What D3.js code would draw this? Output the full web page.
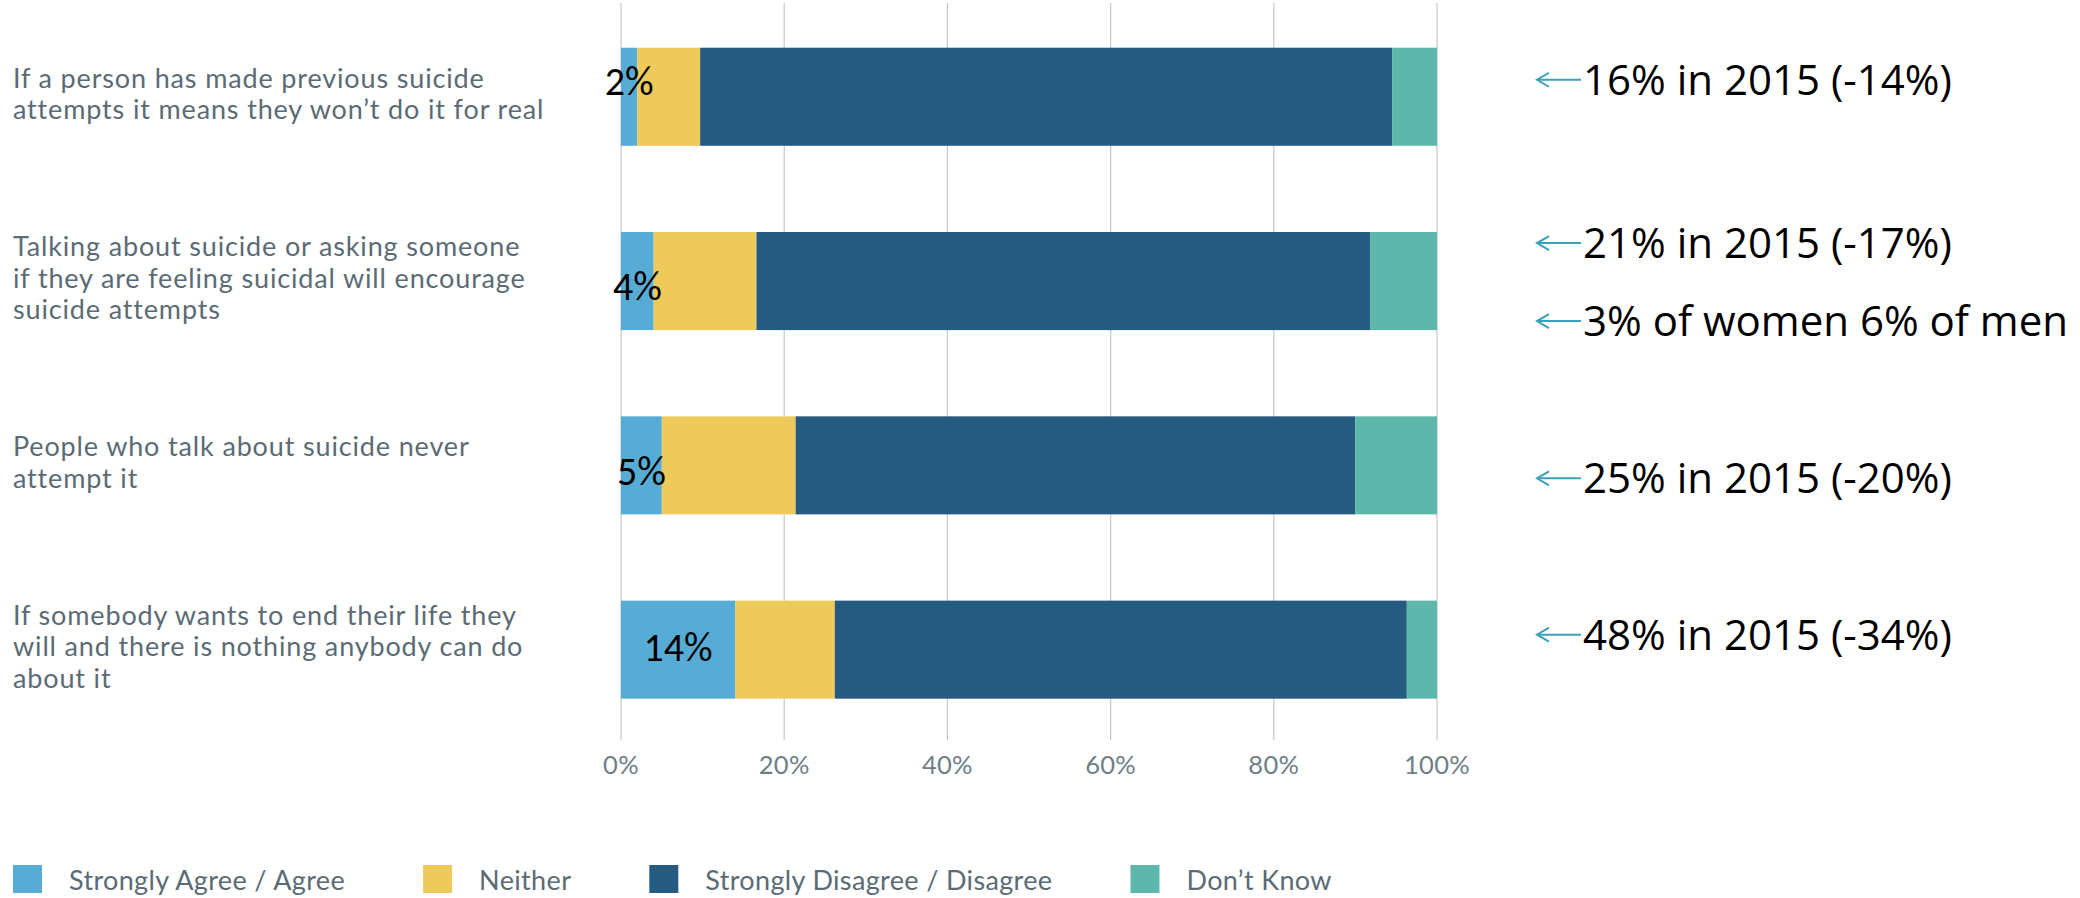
<!DOCTYPE html>
<html>
<head>
<meta charset="utf-8">
<script src="https://cdn.jsdelivr.net/npm/d3@7"></script>
<style>
  html, body { margin: 0; padding: 0; background: #ffffff; }
  svg { display: block; }
</style>
</head>
<body>
<svg id="chart" width="2080" height="898"></svg>
<script>
// Survey statements (one bar each)
const statements = [
  ["If a person has made previous suicide", "attempts it means they won\u2019t do it for real"],
  ["Talking about suicide or asking someone", "if they are feeling suicidal will encourage", "suicide attempts"],
  ["People who talk about suicide never", "attempt it"],
  ["If somebody wants to end their life they", "will and there is nothing anybody can do", "about it"]
];

// Response groups, in stacking order
const responses = ["Strongly Agree / Agree", "Neither", "Strongly Disagree / Disagree", "Don\u2019t Know"];

// Share of respondents (%) per statement, one array per response group
const agree    = [2, 4, 5, 14];
const neither  = [7.7, 12.6, 16.4, 12.2];
const disagree = [84.8, 75.2, 68.6, 70.1];
const dontKnow = [5.5, 8.2, 10.0, 3.7];

// Axis ticks
const tickValues = [0, 20, 40, 60, 80, 100];

// Comparison notes on the right
const notes = [
  { row: 0, text: "16% in 2015 (-14%)" },
  { row: 1, text: "21% in 2015 (-17%)" },
  { row: 1, text: "3% of women 6% of men" },
  { row: 2, text: "25% in 2015 (-20%)" },
  { row: 3, text: "48% in 2015 (-34%)" }
];

// ---- layout ----
const colors = ["#57acd5", "#edca59", "#255a81", "#5db7ab"];
const noteOffsets = [-17, -38, 40, 13, -15];     // vertical nudge of each note from its bar centre
const valueLabelOffsets = [-15, 6, 7, -2];       // vertical nudge of the in-bar value labels

const svg = d3.select("#chart");

const x = d3.scaleLinear().domain([0, 100]).range([621, 1437]);
const y = d3.scaleBand()
  .domain(d3.range(statements.length))
  .range([4.6, 741.8])
  .paddingInner(0.468)
  .paddingOuter(0.234);

const rows = statements.map((s, i) => ({
  i,
  values: [agree[i], neither[i], disagree[i], dontKnow[i]]
}));

// Gridlines
svg.append("g")
  .selectAll("line")
  .data(tickValues)
  .join("line")
  .attr("x1", d => x(d)).attr("x2", d => x(d))
  .attr("y1", 3).attr("y2", 740)
  .attr("stroke", "#c4c7ca")
  .attr("stroke-width", 1.2);

// Tick labels
svg.append("g")
  .selectAll("text")
  .data(tickValues)
  .join("text")
  .attr("x", d => x(d))
  .attr("y", 774)
  .attr("text-anchor", "middle")
  .attr("font-family", "Lato, 'Open Sans', sans-serif")
  .attr("font-size", 25.5)
  .attr("letter-spacing", 0.3)
  .attr("fill", "#6e7e88")
  .text(d => d + "%");

// Stacked bars
const stack = d3.stack()
  .keys(d3.range(responses.length))
  .value((d, k) => d.values[k]);
const series = stack(rows);

svg.append("g")
  .selectAll("g")
  .data(series)
  .join("g")
  .attr("fill", (d, k) => colors[k])
  .selectAll("rect")
  .data(d => d)
  .join("rect")
  .attr("x", d => x(d[0]))
  .attr("width", d => x(d[1]) - x(d[0]))
  .attr("y", d => y(d.data.i))
  .attr("height", y.bandwidth());

// Value labels on the agree segment
svg.append("g")
  .selectAll("text")
  .data(rows)
  .join("text")
  .attr("x", d => x(d.values[0] / 2))
  .attr("y", d => y(d.i) + y.bandwidth() / 2 + valueLabelOffsets[d.i] + 13)
  .attr("text-anchor", "middle")
  .attr("font-family", "Carlito, 'Liberation Sans Narrow', 'Open Sans', sans-serif")
  .attr("font-size", 40)
  .attr("fill", "#000")
  .text(d => d.values[0] + "%");

// Statement labels
const lineHeight = 31.5;
const labels = svg.append("g")
  .attr("font-family", "Lato, 'Open Sans', sans-serif")
  .attr("font-size", 27)
  .attr("letter-spacing", 0.85)
  .attr("fill", "#5b6b75");
statements.forEach((lines, i) => {
  const cy = y(i) + y.bandwidth() / 2 - 3;
  const top = cy - (lines.length - 1) * lineHeight / 2;
  const t = labels.append("text").attr("x", 13);
  lines.forEach((ln, j) => {
    t.append("tspan")
      .attr("x", 13)
      .attr("y", top + j * lineHeight + 9.5)
      .text(ln);
  });
});

// Notes with arrows
const noteG = svg.append("g");
notes.forEach((n, k) => {
  const cy = y(n.row) + y.bandwidth() / 2 + noteOffsets[k];
  const g = noteG.append("g");
  g.append("line")
    .attr("x1", 1537).attr("x2", 1581)
    .attr("y1", cy).attr("y2", cy)
    .attr("stroke", "#3aa1bd").attr("stroke-width", 2);
  g.append("path")
    .attr("d", `M${1549},${cy - 7} L${1537},${cy} L${1549},${cy + 7}`)
    .attr("fill", "none")
    .attr("stroke", "#3aa1bd").attr("stroke-width", 2);
  g.append("text")
    .attr("x", 1583)
    .attr("y", cy + 15)
    .attr("font-family", "'Open Sans', 'Noto Sans', sans-serif")
    .attr("font-size", 42)
    .attr("fill", "#000")
    .text(n.text);
});

// Legend
const legend = svg.append("g")
  .attr("font-family", "Lato, 'Open Sans', sans-serif")
  .attr("font-size", 27)
  .attr("letter-spacing", 0.35)
  .attr("fill", "#5b6b75");
let lx = 13;
responses.forEach((r, k) => {
  legend.append("rect")
    .attr("x", lx).attr("y", 865)
    .attr("width", 29).attr("height", 28)
    .attr("fill", colors[k]);
  const t = legend.append("text")
    .attr("x", lx + 56)
    .attr("y", 890)
    .text(r);
  lx += 56 + t.node().getComputedTextLength() + 78;
});
</script>
</body>
</html>
